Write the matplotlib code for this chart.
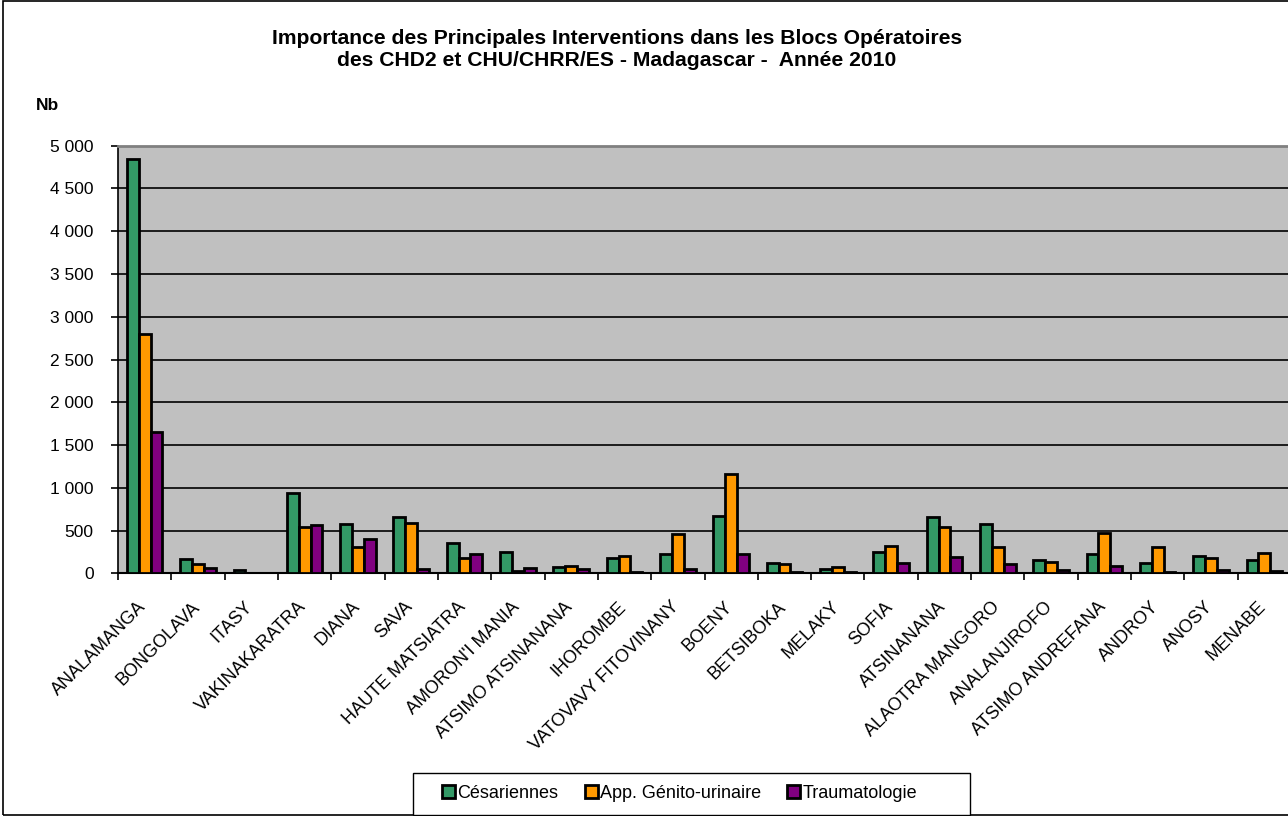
import matplotlib
matplotlib.use("Agg")
import matplotlib.pyplot as plt
import numpy as np
from matplotlib.ticker import FuncFormatter, MultipleLocator, FixedLocator
from matplotlib.patches import Rectangle

plt.rcParams['font.family'] = ['Liberation Sans', 'DejaVu Sans']

regions = ["ANALAMANGA", "BONGOLAVA", "ITASY", "VAKINAKARATRA", "DIANA", "SAVA",
           "HAUTE MATSIATRA", "AMORON'I MANIA", "ATSIMO ATSINANANA", "IHOROMBE",
           "VATOVAVY FITOVINANY", "BOENY", "BETSIBOKA", "MELAKY", "SOFIA",
           "ATSINANANA", "ALAOTRA MANGORO", "ANALANJIROFO", "ATSIMO ANDREFANA",
           "ANDROY", "ANOSY", "MENABE"]
cesariennes = [4845, 167, 42, 944, 581, 663, 355, 246, 74, 176, 222, 674, 117, 50,
               246, 656, 581, 152, 226, 121, 199, 156]
genito = [2800, 112, 5, 542, 308, 593, 176, 30, 85, 199, 460, 1163, 112, 74,
          320, 539, 304, 129, 475, 312, 179, 234]
trauma = [1655, 66, 5, 569, 402, 54, 230, 66, 50, 19, 50, 226, 19, 15,
          121, 191, 109, 35, 89, 19, 35, 30]
series_names = ["Césariennes", "App. Génito-urinaire", "Traumatologie"]
colors = ["#339966", "#FF9900", "#800080"]
title_lines = ["Importance des Principales Interventions dans les Blocs Opératoires",
               "des CHD2 et CHU/CHRR/ES - Madagascar -  Année 2010"]

W, H = 1288, 816
fig = plt.figure(figsize=(W / 100, H / 100), dpi=100)
fig.patch.set_facecolor('white')

# chart outer border
fig.patches.append(Rectangle((3 / W, 1.5 / H), 1.2, 1 - 2.5 / H, transform=fig.transFigure,
                             fill=False, edgecolor='black', linewidth=1.2, zorder=0))

x0, y0, x1, y1 = 118, 145.7, 1291, 573.3
ax = fig.add_axes([x0 / W, 1 - y1 / H, (x1 - x0) / W, (y1 - y0) / H])
ax.set_facecolor('#C0C0C0')

n = len(regions)
x = np.arange(n)
bw = 0.222
handles = []
for i, (vals, c, name) in enumerate(zip([cesariennes, genito, trauma], colors, series_names)):
    b = ax.bar(x + (i - 1) * bw, vals, width=bw, color=c, edgecolor='black',
               linewidth=2.0, label=name, zorder=3)
    handles.append(b)

ax.set_xlim(-0.5, n - 0.5)
ax.set_ylim(0, 5000)
ax.yaxis.set_major_locator(MultipleLocator(500))
ax.yaxis.set_major_formatter(FuncFormatter(lambda v, p: f"{int(v):,}".replace(",", " ")))
ax.grid(axis='y', color='black', linewidth=1.2, zorder=1)
ax.set_axisbelow(True)

ax.set_xticks(x)
ax.set_xticklabels([])
ax.tick_params(axis='x', which='major', length=0)
ax.xaxis.set_minor_locator(FixedLocator(np.arange(n + 1) - 0.5))
ax.tick_params(axis='x', which='minor', length=5, width=1.2, direction='out', color='black')
ax.tick_params(axis='y', length=5, width=1.2, direction='out', labelsize=12.5, pad=12.5)

ax.spines['right'].set_visible(False)
ax.spines['top'].set_color('#808080')
ax.spines['top'].set_linewidth(2)
ax.spines['left'].set_color('black')
ax.spines['left'].set_linewidth(1.2)
ax.spines['bottom'].set_color('black')
ax.spines['bottom'].set_linewidth(1.5)

for xi, lab in zip(x, regions):
    ax.annotate(lab, xy=(xi, 0), xycoords=('data', 'data'), xytext=(-1, -31),
                textcoords='offset pixels', rotation=45, rotation_mode='anchor',
                ha='right', va='center', fontsize=13)

fig.text(617 / W, 1 - 38 / H, title_lines[0], ha='center', va='center',
         fontsize=15.2, fontweight='bold')
fig.text(617 / W, 1 - 60 / H, title_lines[1], ha='center', va='center',
         fontsize=15.2, fontweight='bold')
fig.text(36 / W, 1 - 105 / H, "Nb", ha='left', va='center', fontsize=12.5, fontweight='bold')

# legend frame
fig.patches.append(Rectangle((413 / W, 1 - 815 / H), (970 - 413) / W, (815 - 773) / H,
                             transform=fig.transFigure, fill=True, facecolor='white',
                             edgecolor='black', linewidth=1.0, zorder=1))
leg = fig.legend(handles=handles, labels=series_names, loc='center left',
                 bbox_to_anchor=(442 / W, 1 - 793 / H), ncol=3,
                 frameon=False, fontsize=13, borderpad=0, borderaxespad=0,
                 handlelength=0.73, handleheight=0.73, handletextpad=0.12,
                 columnspacing=1.45)
leg.set_zorder(5)

fig.savefig("out.png", dpi=100)
